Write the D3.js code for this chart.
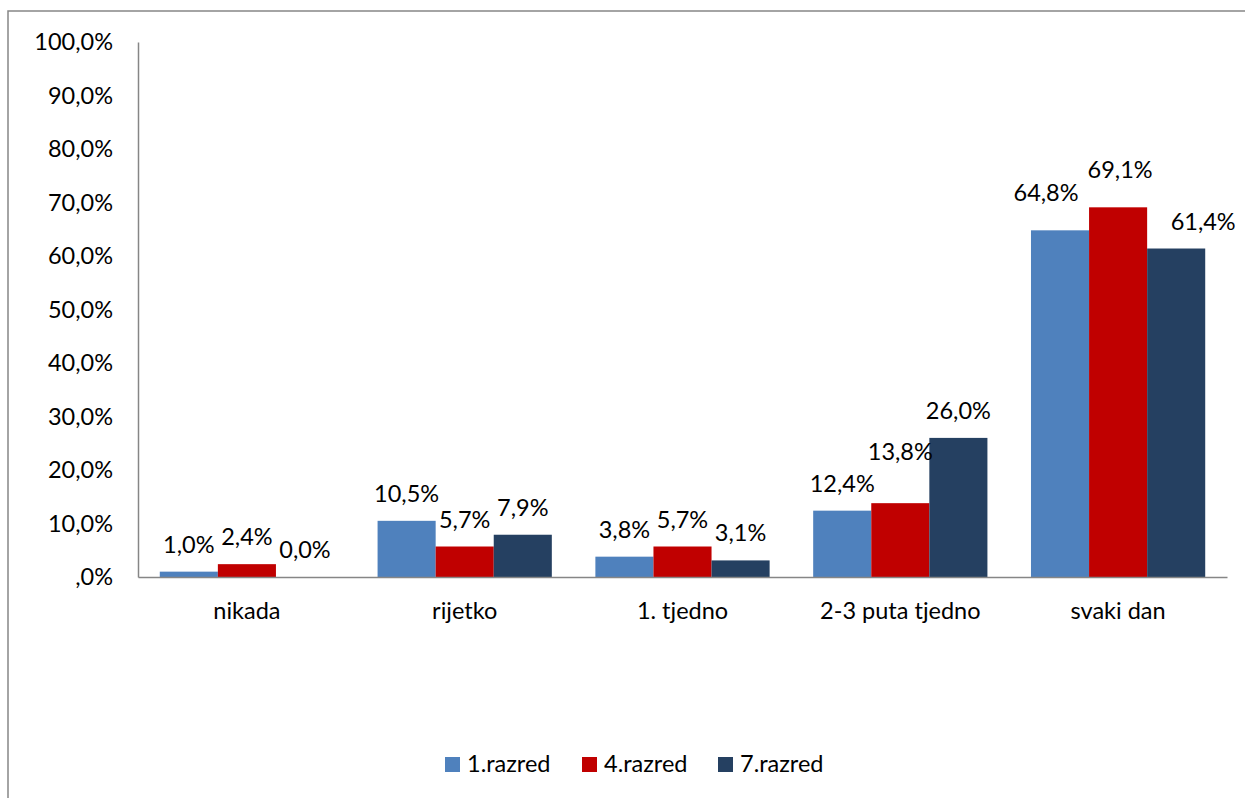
<!DOCTYPE html>
<html>
<head>
<meta charset="utf-8">
<script src="https://cdn.jsdelivr.net/npm/d3@7"></script>
<style>
  body { margin: 0; background: #fff; }
  text { font-family: Lato, "Open Sans", sans-serif; fill: #000; }
</style>
</head>
<body>
<div id="chart"></div>
<script>
//Data
let categories = ["nikada", "rijetko", "1. tjedno", "2-3 puta tjedno", "svaki dan"];
let seriesNames = ["1.razred", "4.razred", "7.razred"];
let razred1 = [1.0, 10.5, 3.8, 12.4, 64.8];
let razred4 = [2.4, 5.7, 5.7, 13.8, 69.1];
let razred7 = [0.0, 7.9, 3.1, 26.0, 61.4];
let yTicks = [0, 10, 20, 30, 40, 50, 60, 70, 80, 90, 100];

let colors = ["#4F81BD", "#C00000", "#254061"];
let seriesValues = [razred1, razred4, razred7];

//Label nudges where the labels would overlap (series, category, dx, dy)
let labelNudges = [
	{ s: 1, c: 3, dx: 0, dy: -24 },
	{ s: 0, c: 4, dx: -14, dy: -10 },
	{ s: 1, c: 4, dx: 2, dy: -10 },
	{ s: 2, c: 4, dx: 27, dy: 0 }
];

//Dimensions
let width = 1245;
let height = 798;
let plotLeft = 138;
let plotRight = 1227;
let plotTop = 42;
let plotBottom = 577;
let fontSize = 23.5;
let axisColor = "#868686";

//Axis format drops the leading zero, data labels keep it
let axisFmt = function(v){
	if(v == 0) return ",0%";
	return v.toFixed(1).replace(".", ",") + "%";
}
let labelFmt = function(v){
	return v.toFixed(1).replace(".", ",") + "%";
}

//SVG container
let svg = d3.select("#chart").append("svg")
	.attr("width", width)
	.attr("height", height);

//Outer chart border (runs off the right and bottom edges)
svg.append("rect")
	.attr("x", 8)
	.attr("y", 11)
	.attr("width", 1300)
	.attr("height", 900)
	.attr("fill", "none")
	.attr("stroke", axisColor)
	.attr("stroke-width", 1.5);

//Scales
let x0 = d3.scaleBand()
	.domain(categories)
	.range([plotLeft, plotRight])
	.paddingInner(0.2)
	.paddingOuter(0.1);

let x1 = d3.scaleBand()
	.domain(d3.range(seriesNames.length))
	.range([0, x0.bandwidth()]);

let y = d3.scaleLinear()
	.domain([0, 100])
	.range([plotBottom, plotTop]);

//Y axis
let yAxis = svg.append("g")
	.attr("transform", "translate(" + plotLeft + ",0)")
	.call(d3.axisLeft(y).tickValues(yTicks).tickFormat(axisFmt).tickSize(0).tickPadding(25));
yAxis.select(".domain").attr("stroke", axisColor).attr("stroke-width", 1.5);
yAxis.selectAll("text")
	.style("font-size", fontSize + "px")
	.style("font-family", "Lato, sans-serif");

//Bars
let groups = svg.selectAll(".group")
		.data(categories)
	.enter()
		.append("g")
			.attr("class", "group")
			.attr("transform", function(d){ return "translate(" + x0(d) + ",0)"; });

let cells = groups.selectAll("rect")
		.data(function(d, ci){
			return seriesValues.map(function(vals, si){ return { s: si, c: ci, v: vals[ci] }; });
		})
	.enter();

cells.append("rect")
	.attr("x", function(d){ return x1(d.s); })
	.attr("y", function(d){ return y(d.v); })
	.attr("width", x1.bandwidth())
	.attr("height", function(d){ return plotBottom - y(d.v); })
	.attr("fill", function(d){ return colors[d.s]; });

//Data labels
cells.append("text")
	.attr("x", function(d){
		let n = labelNudges.find(function(o){ return o.s == d.s && o.c == d.c; });
		return x1(d.s) + x1.bandwidth() / 2 + (n ? n.dx : 0);
	})
	.attr("y", function(d){
		let n = labelNudges.find(function(o){ return o.s == d.s && o.c == d.c; });
		return y(d.v) - 19 + (n ? n.dy : 0);
	})
	.attr("text-anchor", "middle")
	.style("font-size", fontSize + "px")
	.text(function(d){ return labelFmt(d.v); });

//X axis
let xAxis = svg.append("g")
	.attr("transform", "translate(0," + plotBottom + ")")
	.call(d3.axisBottom(x0).tickSize(0).tickPadding(25).tickSizeOuter(0));
xAxis.select(".domain").attr("stroke", axisColor).attr("stroke-width", 1.5);
xAxis.selectAll("text")
	.style("font-size", fontSize + "px")
	.style("font-family", "Lato, sans-serif");

//Legend
let legendX = [445, 582, 718];
let legend = svg.selectAll(".legend")
		.data(seriesNames)
	.enter()
		.append("g")
			.attr("class", "legend")
			.attr("transform", function(d, i){ return "translate(" + legendX[i] + ",757)"; });

legend.append("rect")
	.attr("width", 15)
	.attr("height", 15)
	.attr("fill", function(d, i){ return colors[i]; });

legend.append("text")
	.attr("x", 22)
	.attr("y", 15)
	.style("font-size", fontSize + "px")
	.text(function(d){ return d; });
</script>
</body>
</html>
